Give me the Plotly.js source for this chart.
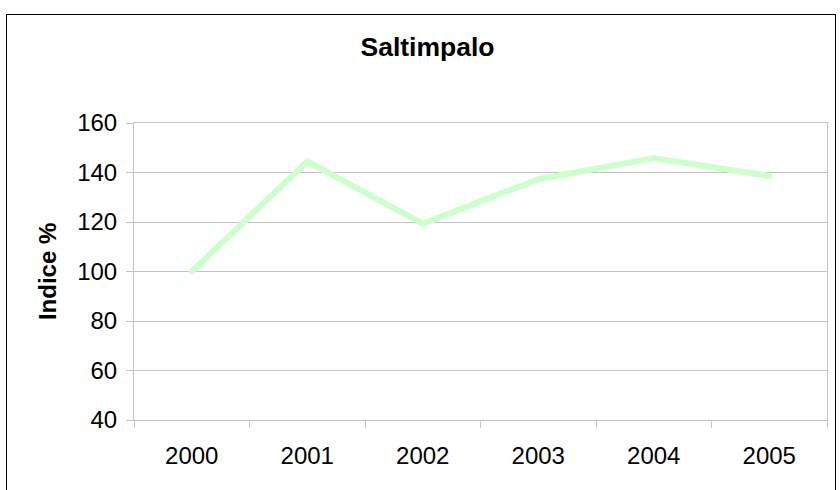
<!DOCTYPE html>
<html>
<head>
<meta charset="utf-8">
<script src="https://cdn.plot.ly/plotly-3.0.1.min.js"></script>
<style>
  html, body { margin: 0; padding: 0; background: #fff; }
  #wrap { position: relative; width: 840px; height: 490px; overflow: hidden; }
  #frame { position: absolute; left: 6px; top: 14px; width: 830px; height: 500px;
           border: 1px solid #000; box-sizing: border-box; pointer-events: none; }
  #chart { position: absolute; left: 0; top: 0; width: 840px; height: 490px; }
  /* rounded ends and joins on the index line */
  #chart .scatterlayer path.js-line { stroke-linecap: round; stroke-linejoin: round; }
</style>
</head>
<body>
<div id="wrap">
  <div id="chart"></div>
  <div id="frame"></div>
</div>
<script>
// Yearly index values (base year 2000 = 100)
const years = ['2000', '2001', '2002', '2003', '2004', '2005'];
const indice = [100, 144.5, 119.3, 137.3, 145.8, 138.6];
const yTicks = [40, 60, 80, 100, 120, 140, 160];

const gridGray = '#c4c4c4';
const fontFam = 'Liberation Sans, Arial, sans-serif';

const W = 840, H = 490;
const M = { l: 134, r: 12.5, t: 123, b: 69.5 };
const plotW = W - M.l - M.r;

const trace = {
  x: years,
  y: indice,
  type: 'scatter',
  mode: 'lines',
  line: { color: '#ccffcc', width: 6 },
  hoverinfo: 'skip'
};

const layout = {
  width: W,
  height: H,
  margin: M,
  paper_bgcolor: 'rgba(0,0,0,0)',
  plot_bgcolor: '#ffffff',
  showlegend: false,
  font: { family: fontFam, color: '#000', size: 24 },
  title: {
    text: '<b>Saltimpalo</b>',
    font: { family: fontFam, size: 26.5, color: '#000' },
    x: 427.5 / W, xanchor: 'center', xref: 'container',
    y: 1 - 46.5 / H, yanchor: 'middle', yref: 'container'
  },
  xaxis: {
    type: 'category',
    range: [-0.5, years.length - 0.5],
    tickson: 'boundaries',
    ticks: 'outside',
    ticklen: 7,
    tickcolor: gridGray,
    tickwidth: 1,
    showgrid: false,
    showline: true,
    linecolor: gridGray,
    linewidth: 1,
    mirror: true,
    tickfont: { family: fontFam, size: 24, color: '#000' },
    ticklabelstandoff: 14,
    fixedrange: true
  },
  yaxis: {
    range: [40, 160],
    tickvals: yTicks,
    ticktext: yTicks.map(String),
    ticks: 'outside',
    ticklen: 7,
    tickcolor: gridGray,
    showgrid: true,
    gridcolor: gridGray,
    gridwidth: 1,
    zeroline: false,
    showline: true,
    linecolor: gridGray,
    linewidth: 1,
    mirror: true,
    tickfont: { family: fontFam, size: 24, color: '#000' },
    ticklabelstandoff: 4,
    fixedrange: true
  },
  annotations: [{
    // y-axis title, placed as rotated text left of the tick labels
    text: '<b>Indice %</b>',
    font: { family: fontFam, size: 24, color: '#000' },
    textangle: -90,
    xref: 'paper', yref: 'paper',
    x: (47.5 - M.l) / plotW, y: 0.5,
    xanchor: 'center', yanchor: 'middle',
    showarrow: false
  }]
};

Plotly.newPlot('chart', [trace], layout, { displayModeBar: false, staticPlot: true });
</script>
</body>
</html>
